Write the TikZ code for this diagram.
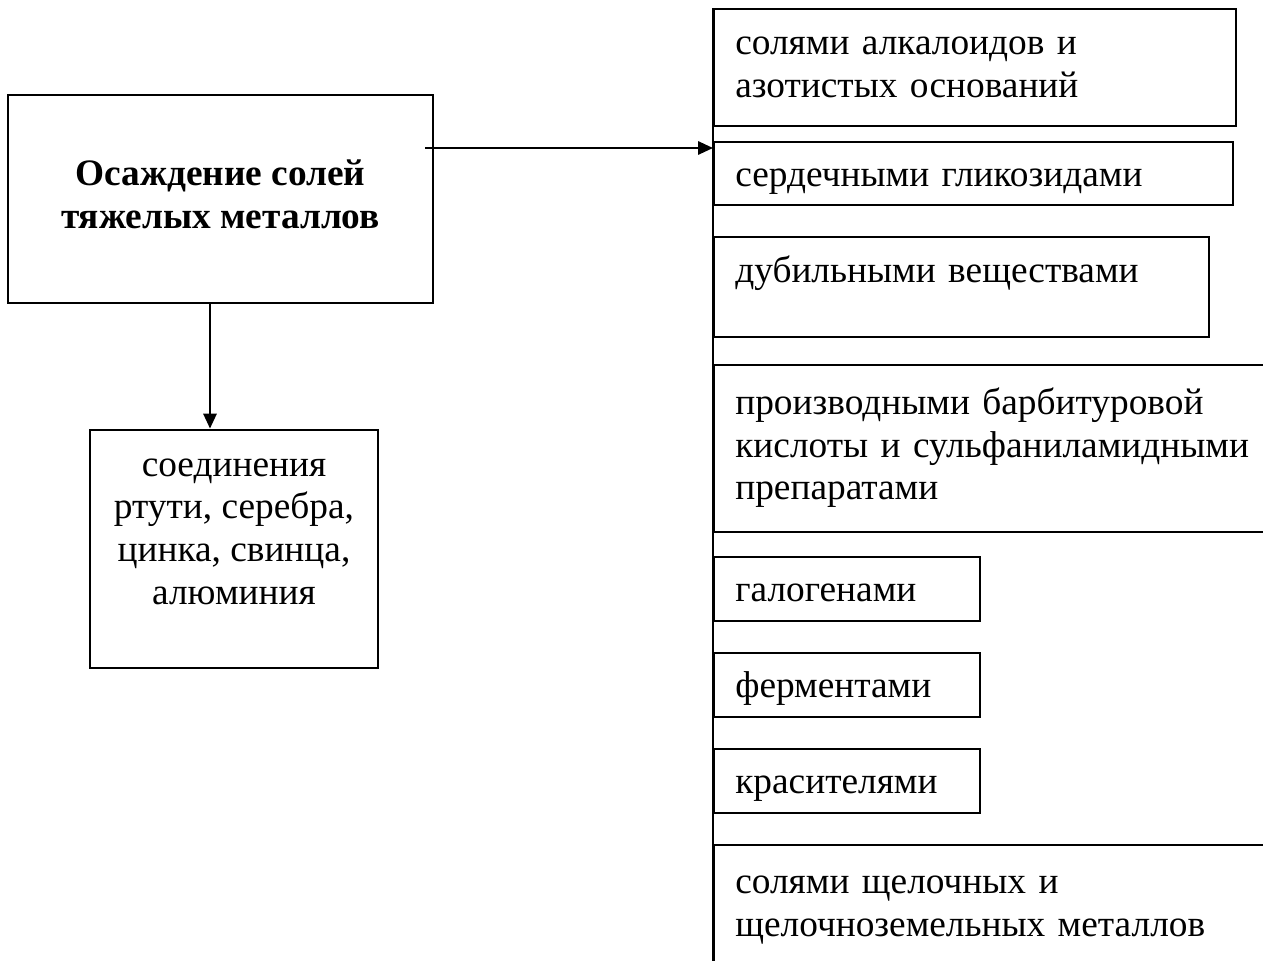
\documentclass[tikz,border=0pt]{standalone}
\usepackage{fontspec}
\setmainfont{Liberation Serif}
\usetikzlibrary{arrows.meta}
\newcommand\boxfont{\fontsize{14pt}{16.1pt}\selectfont}

\begin{document}
\begin{tikzpicture}[x=0.375pt, y=-0.375pt,
                    box/.style = {shape=rectangle, draw, line width=0.75pt, font=\boxfont,
                                  inner xsep=8pt, inner ysep=0pt,
                                  execute at begin node=\strut, execute at end node=\strut},
                    item/.style = {box, anchor=north west, align=left},
                    oneline/.style = {text height=12.8pt, text depth=3.3pt},
                    arrow/.style = {line width=0.75pt, -{Triangle[length=5.6pt, width=5pt]}}]

  \useasboundingbox (0,0) rectangle (1263,961);

  \node[box, font=\boxfont\bfseries, align=center,
        minimum width=159.4pt, minimum height=78pt] (main) at (220.5,199)
    {Осаждение солей\\тяжелых металлов\\[-17.5pt]};
  \node[box, align=center, minimum width=108pt, minimum height=89.6pt] (metals) at (234,549)
    {соединения\\ртути, серебра,\\цинка, свинца,\\алюминия\\[-7.9pt]};

  \node[item, text width=179.75pt, minimum height=43.9pt] (alkaloids) at (713,8)
    {солями алкалоидов и\\азотистых оснований};
  \node[item, oneline, text width=178.6pt, minimum height=23.6pt] (glycosides) at (713,141)
    {сердечными гликозидами};
  \node[item, text width=169.6pt, text height=16.9pt, text depth=20.6pt] (tannins) at (713,236)
    {дубильными веществами};
  \node[item, text width=200.4pt, minimum height=62.6pt] (barbiturates) at (713,364)
    {производными барбитуровой\\кислоты и сульфаниламидными\\препаратами};
  \node[item, oneline, text width=83.75pt, minimum height=24pt] (halogens) at (713,556)
    {галогенами};
  \node[item, oneline, text width=83.75pt, minimum height=24pt] (enzymes) at (713,652)
    {ферментами};
  \node[item, oneline, text width=83.75pt, minimum height=24pt] (dyes) at (713,748)
    {красителями};
  \node[item, text width=200.4pt, minimum height=45.75pt] (alkali) at (713,844)
    {солями щелочных и\\щелочноземельных металлов};

  \coordinate (bustop) at (713,8);
  \coordinate (busend) at (713,961);
  \draw[line width=0.75pt] (bustop) -- (busend);

  \coordinate (from) at (425,148);
  \coordinate (drop) at (210,0);
  \draw[arrow] (from) -- (from -| busend);
  \draw[arrow] (main.south -| drop) -- (metals.north -| drop);
\end{tikzpicture}
\end{document}
